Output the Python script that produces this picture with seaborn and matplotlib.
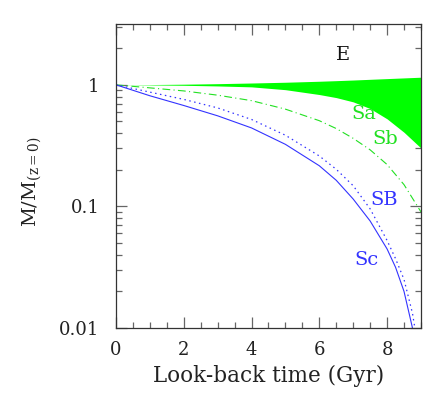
import numpy as np
import pandas as pd
import matplotlib
matplotlib.use('Agg')
import matplotlib.pyplot as plt
import seaborn as sns
from matplotlib.ticker import MultipleLocator, LogLocator, NullFormatter

# giá trị (M / M(z=0) theo thời gian nhìn lại, Gyr)
t_fill = [0, 1, 2, 3, 4, 5, 6, 6.5, 7, 7.5, 8, 8.5, 9]
e_upper = [1.0, 1.005, 1.012, 1.022, 1.035, 1.05, 1.07, 1.082, 1.095, 1.11, 1.125, 1.14, 1.155]
sa_lower = [1.0, 0.998, 0.991, 0.979, 0.962, 0.912, 0.832, 0.785, 0.724, 0.638, 0.525, 0.407, 0.302]

t_sb = [0, 1, 2, 3, 4, 5, 6, 6.5, 7, 7.5, 8, 8.5, 9]
sb = [1.0, 0.944, 0.891, 0.822, 0.741, 0.631, 0.507, 0.437, 0.363, 0.292, 0.221, 0.151, 0.0902]

t_sbar = [0, 1, 2, 3, 4, 5, 6, 6.5, 7, 7.5, 8, 8.25, 8.5, 8.75, 8.85]
sbar = [1.0, 0.871, 0.759, 0.646, 0.519, 0.385, 0.26, 0.202, 0.148, 0.0955, 0.0525, 0.0372,
        0.0251, 0.0132, 0.0089]

t_sc = [0, 1, 2, 3, 4, 5, 6, 6.5, 7, 7.5, 8, 8.25, 8.5, 8.75]
sc = [1.0, 0.813, 0.676, 0.556, 0.442, 0.324, 0.216, 0.164, 0.115, 0.0759, 0.0447, 0.0316,
      0.02, 0.01]

# nhãn: (chữ, t, M, màu)
labels = ['E', 'Sa', 'Sb', 'SB', 'Sc']
label_t = [6.7, 7.3, 7.94, 7.92, 7.39]
label_m = [1.76, 0.573, 0.357, 0.113, 0.036]

green = '#00ff00'
green_txt = '#22e022'
blue = '#3333ff'
label_colors = ['#111111', green_txt, green_txt, blue, blue]

sns.set_style('ticks')
plt.rcParams['font.family'] = ['DejaVu Serif']
plt.rcParams['mathtext.fontset'] = 'dejavuserif'

fig = plt.figure(figsize=(4.36, 4.01), dpi=100)
ax = fig.add_axes([0.266, 0.182, 0.6995, 0.758])

ax.fill_between(t_fill, sa_lower, e_upper, color=green, linewidth=0)
sns.lineplot(x=t_sb, y=sb, ax=ax, color=green_txt, linewidth=0.8,
             linestyle=(0, (7, 3, 1, 3)))
sns.lineplot(x=t_sbar, y=sbar, ax=ax, color=blue, linewidth=0.9,
             linestyle=(0, (1.2, 2.8)))
sns.lineplot(x=t_sc, y=sc, ax=ax, color=blue, linewidth=0.8)

for txt, tx, my, c in zip(labels, label_t, label_m, label_colors):
    ax.text(tx, my, txt, color=c, fontsize=14, ha='center', va='center')

ax.set_yscale('log')
ax.set_xlim(0, 9)
ax.set_ylim(0.01, 3.16)

ax.xaxis.set_major_locator(MultipleLocator(2))
ax.xaxis.set_minor_locator(MultipleLocator(0.5))
ax.set_yticks([0.01, 0.1, 1])
ax.set_yticklabels(['0.01', '0.1', '1'])
ax.yaxis.set_minor_locator(LogLocator(base=10, subs=np.arange(2, 10)))
ax.yaxis.set_minor_formatter(NullFormatter())

ax.tick_params(which='both', direction='in', top=True, right=True,
               color='#666666', width=0.9, labelsize=13, labelcolor='#222222')
ax.tick_params(which='major', length=8)
ax.tick_params(which='minor', length=4)
ax.tick_params(axis='x', which='major', pad=9)
ax.tick_params(axis='y', which='major', pad=12)
for s in ax.spines.values():
    s.set_color('#333333')
    s.set_linewidth(0.9)

ax.set_xlabel('Look-back time (Gyr)', fontsize=15.5, color='#222222')
ax.set_ylabel('M/M$_{\\rm (z=0)}$', fontsize=14, color='#222222')
ax.xaxis.set_label_coords(0.5, -0.122)
ax.yaxis.set_label_coords(-0.235, 0.48)

fig.savefig('out.png', dpi=100)
